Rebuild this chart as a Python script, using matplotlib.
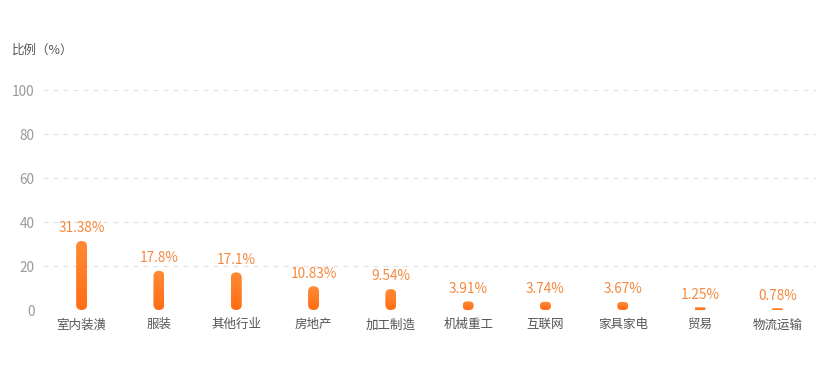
import matplotlib
matplotlib.use("Agg")
import matplotlib.pyplot as plt
import numpy as np
from matplotlib.patches import FancyBboxPatch
from matplotlib.colors import LinearSegmentedColormap

plt.rcParams['font.family'] = ['Noto Sans CJK SC', 'DejaVu Sans']

categories = ["室内装潢", "服装", "其他行业", "房地产", "加工制造", "机械重工", "互联网", "家具家电", "贸易", "物流运输"]
values = [31.38, 17.8, 17.1, 10.83, 9.54, 3.91, 3.74, 3.67, 1.25, 0.78]
labels = ["31.38%", "17.8%", "17.1%", "10.83%", "9.54%", "3.91%", "3.74%", "3.67%", "1.25%", "0.78%"]
yticks = [0, 20, 40, 60, 80, 100]

W, H, DPI = 835, 385, 100
fig = plt.figure(figsize=(W / DPI, H / DPI), dpi=DPI)
L, R, T, B = 43, 816, 90, 310
ax = fig.add_axes([L / W, 1 - B / H, (R - L) / W, (B - T) / H])
ax.set_xlim(-0.5, len(categories) - 0.5)
ax.set_ylim(0, 100)

for s in ax.spines.values():
    s.set_visible(False)
ax.set_yticks(yticks)
ax.set_yticklabels([str(v) for v in yticks], color="#999999", fontsize=9.8)
ax.tick_params(axis='y', length=0, pad=6)
ax.set_xticks(range(len(categories)))
ax.set_xticklabels(categories, color="#555555", fontsize=9)
ax.tick_params(axis='x', length=0, pad=6)
for v in yticks:
    ax.axhline(v, color="#e3e3e3", lw=0.9, ls=(0, (4, 4)), zorder=0)

# bar geometry in pixels -> data
px_x = (len(categories)) / (R - L)   # data units per pixel in x
px_y = 100 / (B - T)                  # data units per pixel in y
bar_w_px = 11
bw = bar_w_px * px_x
aspect = px_y / px_x

cmap = LinearSegmentedColormap.from_list("o", ["#ff6d14", "#ff8c36"])
grad = np.linspace(0, 1, 64).reshape(-1, 1)

for i, v in enumerate(values):
    x0 = i - bw / 2
    h_box = v / aspect
    r = min(bw / 2, h_box / 2)
    patch = FancyBboxPatch((x0, 0), bw, v,
                           boxstyle=f"round,pad=0,rounding_size={r}",
                           mutation_aspect=aspect,
                           facecolor="none", edgecolor="none", zorder=2)
    ax.add_patch(patch)
    im = ax.imshow(grad, extent=(x0, x0 + bw, 0, max(v, 0.01)), origin='lower',
                   cmap=cmap, aspect='auto', zorder=2)
    im.set_clip_path(patch)
    ax.annotate(labels[i], (i, v), xytext=(0, 4), textcoords='offset points',
                ha='center', va='bottom', color="#f5883c", fontsize=9.8,
                fontweight='medium')

ax.set_xlim(-0.5, len(categories) - 0.5)
ax.set_ylim(0, 100)

fig.text(12 / W, 1 - 50 / H, "比例（%）", color="#555555", fontsize=9, va='center', ha='left')

fig.savefig("out.png", dpi=DPI)
